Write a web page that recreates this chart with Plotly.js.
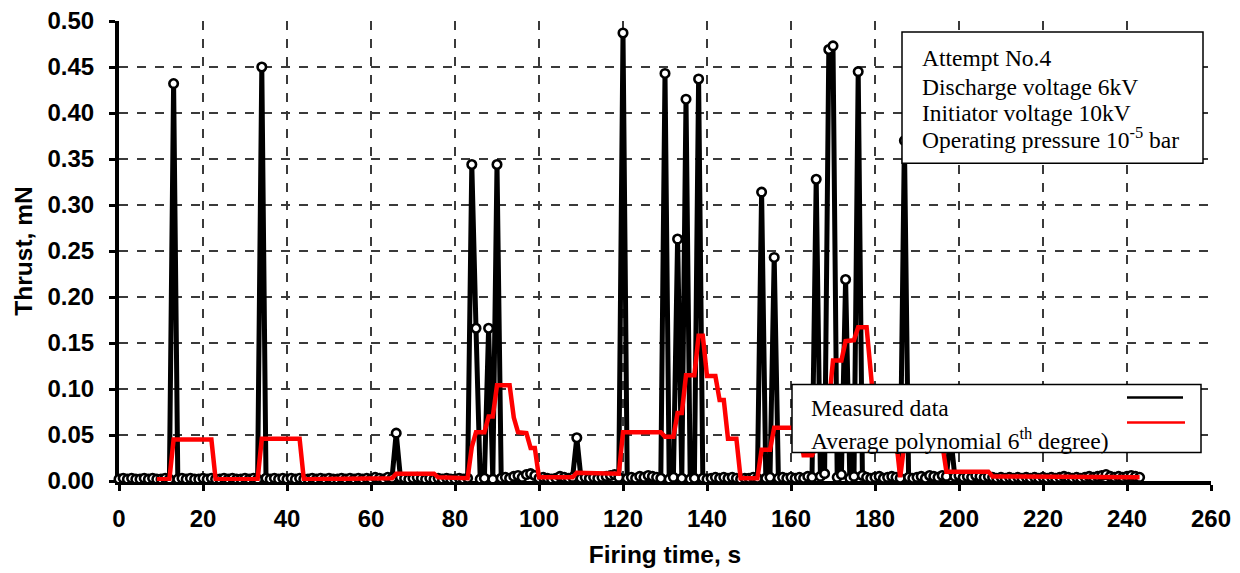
<!DOCTYPE html>
<html>
<head>
<meta charset="utf-8">
<script src="https://cdn.plot.ly/plotly-3.0.1.min.js"></script>
<style>html,body{margin:0;padding:0;background:#fff;}#chart{width:1240px;height:573px;}</style>
</head>
<body>
<div id="chart"></div>
<script>
// Firing time (s) of measured samples
const timeS = Array.from({length: 244}, (_, i) => i);
// Measured thrust (mN), one value per second
const thrustMeasured = [
  0.002,0.003,0.002,0.003,0.002,0.002,0.003,0.002,0.003,0.002,
  0.002,0.003,0.002,0.432,0.002,0.003,0.002,0.003,0.002,0.002,
  0.003,0.002,0.003,0.002,0.002,0.003,0.002,0.003,0.002,0.002,
  0.003,0.002,0.003,0.002,0.450,0.003,0.002,0.003,0.002,0.003,
  0.002,0.003,0.002,0.003,0.002,0.002,0.003,0.002,0.003,0.002,
  0.003,0.002,0.002,0.003,0.002,0.003,0.002,0.003,0.002,0.003,
  0.002,0.004,0.003,0.002,0.004,0.003,0.052,0.004,0.003,0.002,
  0.003,0.004,0.003,0.002,0.003,0.002,0.003,0.002,0.003,0.002,
  0.002,0.003,0.002,0.003,0.344,0.166,0.002,0.003,0.166,0.002,
  0.344,0.003,0.004,0.003,0.005,0.006,0.004,0.007,0.008,0.006,
  0.003,0.004,0.003,0.002,0.003,0.005,0.004,0.003,0.004,0.047,
  0.003,0.004,0.003,0.004,0.003,0.004,0.005,0.006,0.007,0.004,
  0.487,0.003,0.004,0.003,0.005,0.004,0.006,0.005,0.004,0.003,
  0.443,0.002,0.004,0.263,0.003,0.415,0.002,0.003,0.437,0.003,
  0.002,0.003,0.004,0.003,0.004,0.003,0.004,0.003,0.002,0.003,
  0.003,0.004,0.003,0.314,0.003,0.004,0.243,0.003,0.004,0.003,
  0.004,0.003,0.004,0.003,0.005,0.004,0.328,0.005,0.008,0.469,
  0.473,0.004,0.007,0.219,0.003,0.005,0.445,0.006,0.004,0.003,
  0.004,0.005,0.003,0.004,0.005,0.004,0.003,0.370,0.004,0.003,
  0.004,0.005,0.003,0.006,0.005,0.004,0.006,0.005,0.050,0.005,
  0.006,0.004,0.005,0.004,0.006,0.005,0.004,0.005,0.004,0.003,
  0.004,0.003,0.004,0.003,0.004,0.003,0.004,0.003,0.004,0.003,
  0.004,0.003,0.004,0.003,0.004,0.005,0.004,0.003,0.004,0.003,
  0.004,0.005,0.004,0.005,0.006,0.007,0.005,0.004,0.005,0.004,
  0.005,0.006,0.005,0.004
];
// Average curve vertices
const avgTime = [9,12,13,22,23,33,34,43,44,61,62,65,66,75,76,83,84,85,87,88,89,90,93,94,95,97,98,99,100,108,109,118,119,120,129,130,132,133,134,135,137,138,139,140,142,143,144,145,147,148,152,153,155,156,162,163,165,166,168,169,170,172,173,175,176,178,179,180,182,183,185,186,187,196,197,207,208,243];
const avgThrust = [0.002,0.002,0.045,0.045,0.002,0.002,0.046,0.046,0.002,0.002,0.003,0.003,0.008,0.008,0.004,0.003,0.037,0.053,0.053,0.070,0.070,0.104,0.104,0.069,0.053,0.052,0.036,0.036,0.004,0.004,0.009,0.009,0.008,0.053,0.053,0.048,0.048,0.074,0.074,0.115,0.115,0.158,0.158,0.114,0.114,0.088,0.088,0.046,0.046,0.003,0.003,0.034,0.034,0.058,0.058,0.028,0.028,0.037,0.037,0.084,0.131,0.131,0.152,0.153,0.167,0.167,0.114,0.068,0.068,0.046,0.046,0.004,0.041,0.041,0.010,0.010,0.005,0.004];
const xTicks = [0,20,40,60,80,100,120,140,160,180,200,220,240,260];
const infoLines = ['Attempt No.4','Discharge voltage 6kV','Initiator voltage 10kV','Operating pressure 10<sup>-5</sup> bar'];
const legendNames = ['Measured data','Average polynomial 6<sup>th</sup> degree)'];

const sans = 'Liberation Sans, Arial, sans-serif';
const serif = 'Liberation Serif, Times New Roman, serif';

const traces = [
  {x: timeS, y: thrustMeasured, type: 'scatter', mode: 'lines+markers', name: legendNames[0],
   line: {color: '#000', width: 5}, cliponaxis: false,
   marker: {symbol: 'circle', size: 8.5, color: '#fff', line: {color: '#000', width: 2.6}}},
  {x: avgTime, y: avgThrust, type: 'scatter', mode: 'lines', name: 'Average',
   line: {color: '#ff0000', width: 4.5}, cliponaxis: false}
];

const axisCommon = {
  showgrid: true, gridcolor: '#3a3a3a', gridwidth: 1.4, griddash: 'dash',
  showline: true, linecolor: '#000', linewidth: 4, zeroline: false,
  ticks: 'outside', ticklen: 6, tickwidth: 3, tickcolor: '#000',
  tickfont: {family: sans, size: 24, color: '#000', weight: 'bold'},
  layer: 'below traces'
};

// paper coordinate helpers for decoration placement
const px = v => (v - 119) / 1092;
const py = v => (480.5 - v) / 459.5;

const annotations = [];
const yInfo = [58, 87, 113, 138];
infoLines.forEach((t, i) => annotations.push({xref: 'paper', yref: 'paper', x: px(920), y: py(yInfo[i]),
  xanchor: 'left', yanchor: 'middle', text: t, showarrow: false, font: {family: serif, size: 23.5, color: '#000'}}));
const yLeg = [408, 439];
legendNames.forEach((t, i) => annotations.push({xref: 'paper', yref: 'paper', x: px(809), y: py(yLeg[i]),
  xanchor: 'left', yanchor: 'middle', text: t, showarrow: false, font: {family: serif, size: 23.5, color: '#000'}}));

const layout = {
  width: 1240, height: 573,
  margin: {l: 119, r: 29, t: 21, b: 92},
  paper_bgcolor: '#fff', plot_bgcolor: '#fff',
  showlegend: false,
  xaxis: Object.assign({}, axisCommon, {range: [0, 260], tickvals: xTicks, ticklabelstandoff: 7,
    title: {text: 'Firing time, s', font: {family: sans, size: 24.5, color: '#000', weight: 'bold'}, standoff: 16}}),
  yaxis: Object.assign({}, axisCommon, {range: [0, 0.5], dtick: 0.05, tick0: 0, tickformat: '.2f', ticklabelstandoff: 10,
    title: {text: 'Thrust, mN', font: {family: sans, size: 24.5, color: '#000', weight: 'bold'}, standoff: 9}}),
  shapes: [
    {type: 'rect', xref: 'paper', yref: 'paper', x0: px(902), x1: px(1203), y0: py(163), y1: py(32),
     fillcolor: '#fff', line: {color: '#000', width: 1.5}, layer: 'above'},
    {type: 'rect', xref: 'paper', yref: 'paper', x0: px(792), x1: px(1201), y0: py(452), y1: py(384),
     fillcolor: '#fff', line: {color: '#000', width: 1.5}, layer: 'above'},
    {type: 'line', xref: 'paper', yref: 'paper', x0: px(1127), x1: px(1183), y0: py(397), y1: py(397),
     line: {color: '#000', width: 2.5}, layer: 'above'},
    {type: 'line', xref: 'paper', yref: 'paper', x0: px(1127), x1: px(1185), y0: py(422), y1: py(422),
     line: {color: '#ff0000', width: 2.5}, layer: 'above'}
  ],
  annotations: annotations
};

Plotly.newPlot('chart', traces, layout, {displayModeBar: false, staticPlot: true});
</script>
</body>
</html>
